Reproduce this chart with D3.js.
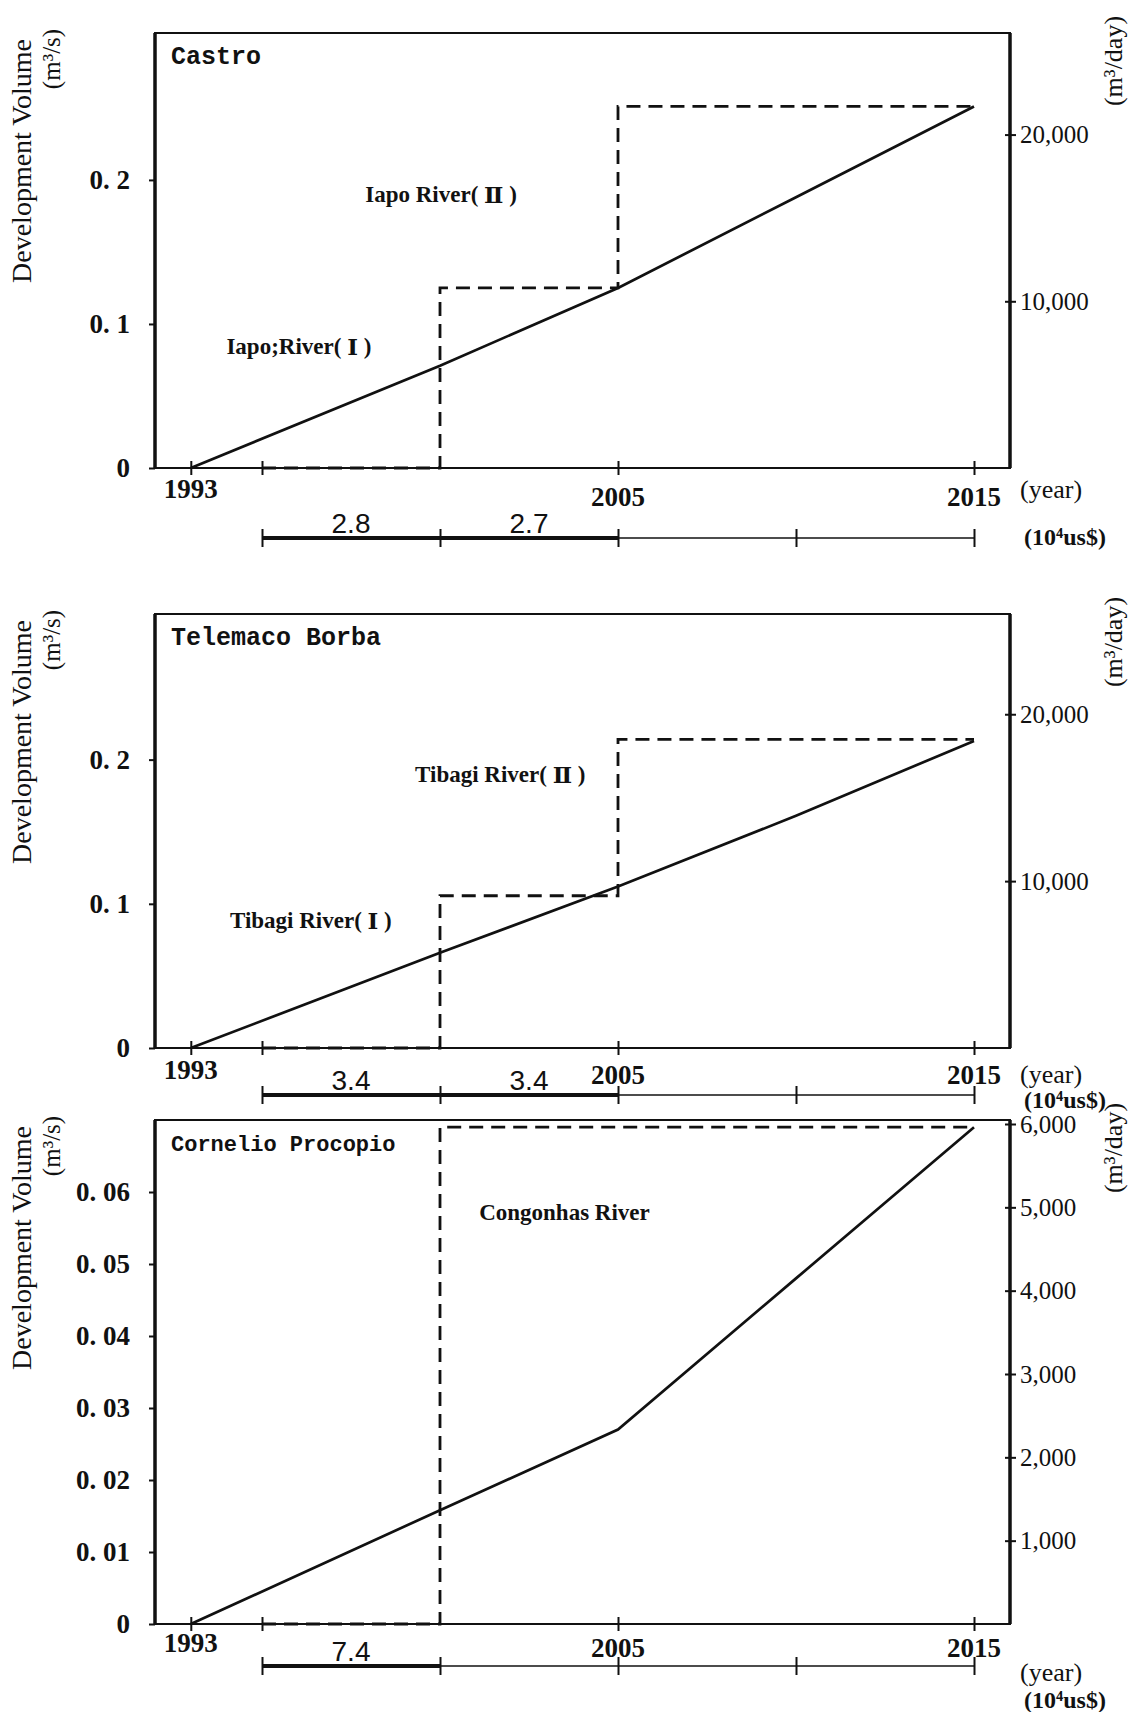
<!DOCTYPE html>
<html lang="en"><head>
<meta charset="utf-8">
<title>development volume</title>
<script src="https://cdn.jsdelivr.net/npm/d3@7"></script>
<style>
  body { margin:0; background:#fff; }
  svg { display:block; }
  .num { font-family:"Liberation Serif", serif; font-weight:bold; font-size:27px; fill:#111; }
  .day { font-family:"Liberation Serif", serif; font-size:25px; fill:#111; }
  .unit { font-family:"Liberation Serif", serif; font-size:25px; fill:#111; }
  .cost { font-family:"Liberation Sans", sans-serif; font-size:28px; fill:#111; }
  .title { font-family:"Liberation Mono", monospace; font-weight:bold; fill:#111; }
  .river { font-family:"Liberation Serif", serif; font-weight:bold; font-size:23px; fill:#111; }
  .roman { font-family:"DejaVu Serif", serif; font-weight:bold; }
</style>
</head>
<body>
<svg width="1133" height="1712"></svg>
<script>
// ---- data ----
var years = [1993, 2000, 2005, 2010, 2015];
var castroVol   = [0, 0.071, 0.125, 0.188, 0.251];   // m3/s, solid line
var telemacoVol = [0, 0.066, 0.112, 0.161, 0.213];
var cornelioVol = [0, 0.0158, 0.027, 0.048, 0.069];

// dashed step (intake capacity), values start at each step year
var castroStepYears = [1995, 2000, 2005, 2015];
var castroSteps     = [0, 0.125, 0.251, 0.251];
var telemacoStepYears = [1995, 2000, 2005, 2015];
var telemacoSteps     = [0, 0.1056, 0.214, 0.214];
var cornelioStepYears = [1995, 2000, 2015];
var cornelioSteps     = [0, 0.069, 0.069];

// cost (10^4 US$) per 5-year interval starting 1995
var costTicks = [1995, 2000, 2005, 2010, 2015];
var castroCost   = [2.8, 2.7];
var telemacoCost = [3.4, 3.4];
var cornelioCost = [7.4];

var yearTicks  = [1993, 1995, 2005, 2015];
var yearLabels = [1993, 2005, 2015];

var svg = d3.select("svg");
var x = d3.scaleLinear().domain([1995, 2015]).range([262, 974]);
var left = 155, right = 1010;

var panels = [
  {name:"Castro", titleSize:25, top:33, zero:468, yMax:0.302, leftTicks:[0,0.1,0.2], dec:1,
   dayTicks:[10000,20000], vol:castroVol, stepYears:castroStepYears, steps:castroSteps, cost:castroCost,
   rivers:[{t:"Iapo River", n:"Ⅱ", yr:1997.9, v:0.19}, {t:"Iapo;River", n:"Ⅰ", yr:1994.0, v:0.085}],
   yrOff:[21,29], yearUnit:21, costAxis:70, costUnit:69},
  {name:"Telemaco Borba", titleSize:25, top:614, zero:1048, yMax:0.301, leftTicks:[0,0.1,0.2], dec:1,
   dayTicks:[10000,20000], vol:telemacoVol, stepYears:telemacoStepYears, steps:telemacoSteps, cost:telemacoCost,
   rivers:[{t:"Tibagi River", n:"Ⅱ", yr:1999.3, v:0.19}, {t:"Tibagi River", n:"Ⅰ", yr:1994.1, v:0.089}],
   yrOff:[22,27], yearUnit:26, costAxis:47, costUnit:52},
  {name:"Cornelio Procopio", titleSize:22, top:1120, zero:1624, yMax:0.07, leftTicks:[0,0.01,0.02,0.03,0.04,0.05,0.06], dec:2,
   dayTicks:[1000,2000,3000,4000,5000,6000], vol:cornelioVol, stepYears:cornelioStepYears, steps:cornelioSteps, cost:cornelioCost,
   rivers:[{t:"Congonhas River", n:null, yr:2001.1, v:0.0572}],
   yrOff:[19,24], yearUnit:48, costAxis:42, costUnit:76}
];

panels.forEach(drawPanel);

function drawPanel(p) {
  var g = svg.append("g");
  var y = d3.scaleLinear().domain([0, p.yMax]).range([p.zero, p.top]);
  var yDay = d3.scaleLinear().domain([0, p.yMax * 86400]).range([p.zero, p.top]);

  // frame
  g.append("rect").attr("x", left).attr("y", p.top).attr("width", right - left).attr("height", p.zero - p.top)
    .attr("fill", "none").attr("stroke", "#111").attr("stroke-width", 2);
  g.append("line").attr("x1", left).attr("x2", left).attr("y1", p.top).attr("y2", p.zero)
    .attr("stroke", "#111").attr("stroke-width", 3.5);
  g.append("line").attr("x1", right).attr("x2", right).attr("y1", p.top).attr("y2", p.zero)
    .attr("stroke", "#111").attr("stroke-width", 3.5);

  // left axis
  var fmt = function(d) { return d === 0 ? "0" : d3.format("." + p.dec + "f")(d).replace(".", ". "); };
  var la = g.append("g").attr("transform", "translate(" + left + ",0)")
    .call(d3.axisLeft(y).tickValues(p.leftTicks).tickSize(6).tickPadding(19).tickFormat(fmt));
  la.select(".domain").remove();
  la.selectAll("line").attr("stroke", "#111").attr("stroke-width", 2);
  la.selectAll("text").attr("class", "num").attr("font-family", null).attr("font-size", null);

  // right axis (m3/day)
  var ra = g.append("g").attr("transform", "translate(" + right + ",0)")
    .call(d3.axisRight(yDay).tickValues(p.dayTicks).tickSize(6).tickPadding(4).tickFormat(d3.format(",")));
  ra.select(".domain").remove();
  ra.selectAll("line").attr("x1", -5).attr("stroke", "#111").attr("stroke-width", 2);
  ra.selectAll("text").attr("class", "day").attr("font-family", null).attr("font-size", null);

  // year ticks on zero line
  var xa = g.append("g").attr("transform", "translate(0," + p.zero + ")")
    .call(d3.axisBottom(x).tickValues(yearTicks).tickSize(7).tickFormat(""));
  xa.select(".domain").remove();
  xa.selectAll("line").attr("y1", -7).attr("stroke", "#111").attr("stroke-width", 2);
  g.selectAll(".yr").data(yearLabels).enter().append("text")
    .attr("class", "num")
    .attr("x", function(d) { return x(d); })
    .attr("y", function(d) { return p.zero + (d === 1993 ? p.yrOff[0] : p.yrOff[1]); })
    .attr("text-anchor", "middle").attr("dominant-baseline", "central")
    .text(function(d) { return d; });
  g.append("text").attr("class", "unit").style("font-size", "26px").attr("x", 1020).attr("y", p.zero + p.yearUnit)
    .attr("dominant-baseline", "central").text("(year)");

  // dashed supply step
  var stepData = p.stepYears.map(function(d, i) { return [d, p.steps[i]]; });
  g.append("path").datum(stepData)
    .attr("d", d3.line().x(function(d) { return x(d[0]); }).y(function(d) { return y(d[1]); }).curve(d3.curveStepAfter))
    .attr("fill", "none").attr("stroke", "#111").attr("stroke-width", 2.8).attr("stroke-dasharray", "14,8");

  // solid demand line
  g.append("path").datum(years.map(function(d, i) { return [d, p.vol[i]]; }))
    .attr("d", d3.line().x(function(d) { return x(d[0]); }).y(function(d) { return y(d[1]); }))
    .attr("fill", "none").attr("stroke", "#111").attr("stroke-width", 2.7);

  // cost axis
  var cy = p.zero + p.costAxis;
  var ca = g.append("g").attr("transform", "translate(0," + cy + ")")
    .call(d3.axisBottom(x).tickValues(costTicks).tickSize(9).tickFormat(""));
  ca.select(".domain").remove();
  ca.selectAll("line").attr("y1", -9).attr("stroke", "#111").attr("stroke-width", 2);
  g.append("line").attr("x1", x(1995)).attr("x2", x(2015)).attr("y1", cy).attr("y2", cy)
    .attr("stroke", "#111").attr("stroke-width", 1.5);
  g.append("line").attr("x1", x(1995)).attr("x2", x(1995 + 5 * p.cost.length)).attr("y1", cy).attr("y2", cy)
    .attr("stroke", "#111").attr("stroke-width", 4);
  g.selectAll(".cst").data(p.cost).enter().append("text")
    .attr("class", "cost")
    .attr("x", function(d, i) { return x(1995 + 5 * i + 2.5); })
    .attr("y", cy - 5).attr("text-anchor", "middle")
    .text(function(d) { return d3.format(".1f")(d); });
  g.append("text").attr("class", "unit").style("font-size", "24px").attr("x", 1024).attr("y", p.zero + p.costUnit)
    .attr("dominant-baseline", "central").style("font-weight", "bold").text("(10⁴us$)");

  // titles and annotations
  g.append("text").attr("class", "title").attr("x", 171).attr("y", p.top + 31)
    .style("font-size", p.titleSize + "px").text(p.name);
  p.rivers.forEach(function(d) {
    var t = g.append("text").attr("class", "river")
      .attr("x", x(d.yr)).attr("y", y(d.v))
      .attr("dominant-baseline", "central");
    t.append("tspan").text(d.t);
    if (d.n) {
      t.append("tspan").text("( ");
      t.append("tspan").attr("class", "roman").text(d.n);
      t.append("tspan").text(" )");
    }
  });

  // axis titles
  g.append("text").attr("class", "unit").style("font-size", "28px")
    .attr("transform", "translate(21," + (p.top + 128) + ") rotate(-90)")
    .attr("text-anchor", "middle").attr("dominant-baseline", "central")
    .text("Development Volume");
  g.append("text").attr("class", "unit").style("font-size", "25px")
    .attr("transform", "translate(51," + (p.top + 26) + ") rotate(-90)")
    .attr("text-anchor", "middle").attr("dominant-baseline", "central")
    .text("(m³/s)");
  g.append("text").attr("class", "unit").style("font-size", "26px")
    .attr("transform", "translate(1113," + (p.top + 28) + ") rotate(-90)")
    .attr("text-anchor", "middle").attr("dominant-baseline", "central")
    .text("(m³/day)");
}
</script>
</body>
</html>
